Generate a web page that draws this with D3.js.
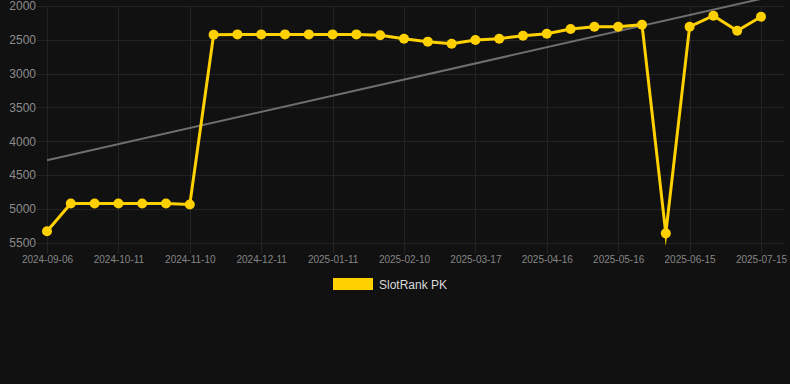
<!DOCTYPE html>
<html>
<head>
<meta charset="utf-8">
<script src="https://cdn.jsdelivr.net/npm/d3@7"></script>
<style>
  html, body { margin: 0; padding: 0; background: #111111; }
  svg { display: block; font-family: "Liberation Sans", Arial, sans-serif; }
</style>
</head>
<body>
<svg id="chart" width="790" height="384"></svg>
<script>
// dates (one per point), only every third one gets a label
const dates = [
  "2024-09-06", "2024-09-18", "2024-09-29", "2024-10-11", "2024-10-21", "2024-10-31",
  "2024-11-10", "2024-11-20", "2024-12-01", "2024-12-11", "2024-12-21", "2025-01-01",
  "2025-01-11", "2025-01-21", "2025-01-31", "2025-02-10", "2025-02-22", "2025-03-05",
  "2025-03-17", "2025-03-27", "2025-04-06", "2025-04-16", "2025-04-26", "2025-05-06",
  "2025-05-16", "2025-05-26", "2025-06-05", "2025-06-15", "2025-06-25", "2025-07-05",
  "2025-07-15"
];
const tickDates = ["2024-09-06", "2024-10-11", "2024-11-10", "2024-12-11", "2025-01-11",
  "2025-02-10", "2025-03-17", "2025-04-16", "2025-05-16", "2025-06-15", "2025-07-15"];

const rankPK = [
  5330, 4920, 4920, 4920, 4920, 4920,
  4935, 2424, 2420, 2420, 2420, 2420,
  2420, 2420, 2433, 2483, 2527, 2557,
  2503, 2483, 2440, 2410, 2340, 2306,
  2306, 2276, 5362, 2306, 2143, 2365,
  2158
];
// trend line, value at first and last date
const trend = [4280, 1895];
const yTicks = [2000, 2500, 3000, 3500, 4000, 4500, 5000, 5500];

const area = {left: 47, right: 761, top: 6, bottom: 242.7};

const svg = d3.select("#chart");

const x = d3.scalePoint()
    .domain(dates)
    .range([area.left, area.right]);

const y = d3.scaleLinear()
    .domain([2000, 5500])
    .range([area.top, area.bottom]);

// grid
const grid = svg.append("g").attr("stroke", "#232323").attr("stroke-width", 1);
grid.selectAll("line.h")
    .data(yTicks)
    .enter().append("line")
    .attr("x1", area.left - 10).attr("x2", 785)
    .attr("y1", d => Math.round(y(d)) + 0.5)
    .attr("y2", d => Math.round(y(d)) + 0.5);
grid.selectAll("line.v")
    .data(tickDates)
    .enter().append("line")
    .attr("x1", d => Math.round(x(d)) + 0.5)
    .attr("x2", d => Math.round(x(d)) + 0.5)
    .attr("y1", area.top).attr("y2", area.bottom + 11);

// y axis labels
const yAxis = svg.append("g")
    .attr("transform", "translate(" + (area.left - 11) + ",0)")
    .call(d3.axisLeft(y).tickValues(yTicks).tickSize(0).tickPadding(0).tickFormat(d3.format("d")));
yAxis.select(".domain").remove();
yAxis.selectAll("text")
    .attr("fill", "#8c8c8c")
    .style("font-size", "12px")
    .style("font-family", "Liberation Sans, Arial, sans-serif");

// x axis labels
const xAxis = svg.append("g")
    .attr("transform", "translate(0," + (area.bottom + 11) + ")")
    .call(d3.axisBottom(x).tickValues(tickDates).tickSize(0).tickPadding(2));
xAxis.select(".domain").remove();
xAxis.selectAll("text")
    .attr("fill", "#858585")
    .style("font-size", "10px")
    .style("font-family", "Liberation Sans, Arial, sans-serif");

// trend line
svg.append("line")
    .attr("x1", x(dates[0])).attr("y1", y(trend[0]))
    .attr("x2", x(dates[dates.length - 1])).attr("y2", y(trend[1]))
    .attr("stroke", "#6e6e6e")
    .attr("stroke-width", 2);

// series
const line = d3.line()
    .x((d, i) => x(dates[i]))
    .y(d => y(d));

svg.append("path")
    .datum(rankPK)
    .attr("d", line)
    .attr("fill", "none")
    .attr("stroke", "#ffd100")
    .attr("stroke-width", 3)
    .attr("stroke-linejoin", "miter")
    .attr("stroke-miterlimit", 10);

svg.selectAll("circle.pt")
    .data(rankPK)
    .enter().append("circle")
    .attr("class", "pt")
    .attr("cx", (d, i) => x(dates[i]))
    .attr("cy", d => y(d))
    .attr("r", 5)
    .attr("fill", "#ffd100");

// legend
const legend = svg.append("g");
legend.append("rect")
    .attr("x", 333).attr("y", 278)
    .attr("width", 40).attr("height", 12)
    .attr("fill", "#ffd100");
legend.append("text")
    .attr("x", 379).attr("y", 288.5)
    .attr("fill", "#d9d9d9")
    .style("font-size", "12px")
    .text("SlotRank PK");
</script>
</body>
</html>
